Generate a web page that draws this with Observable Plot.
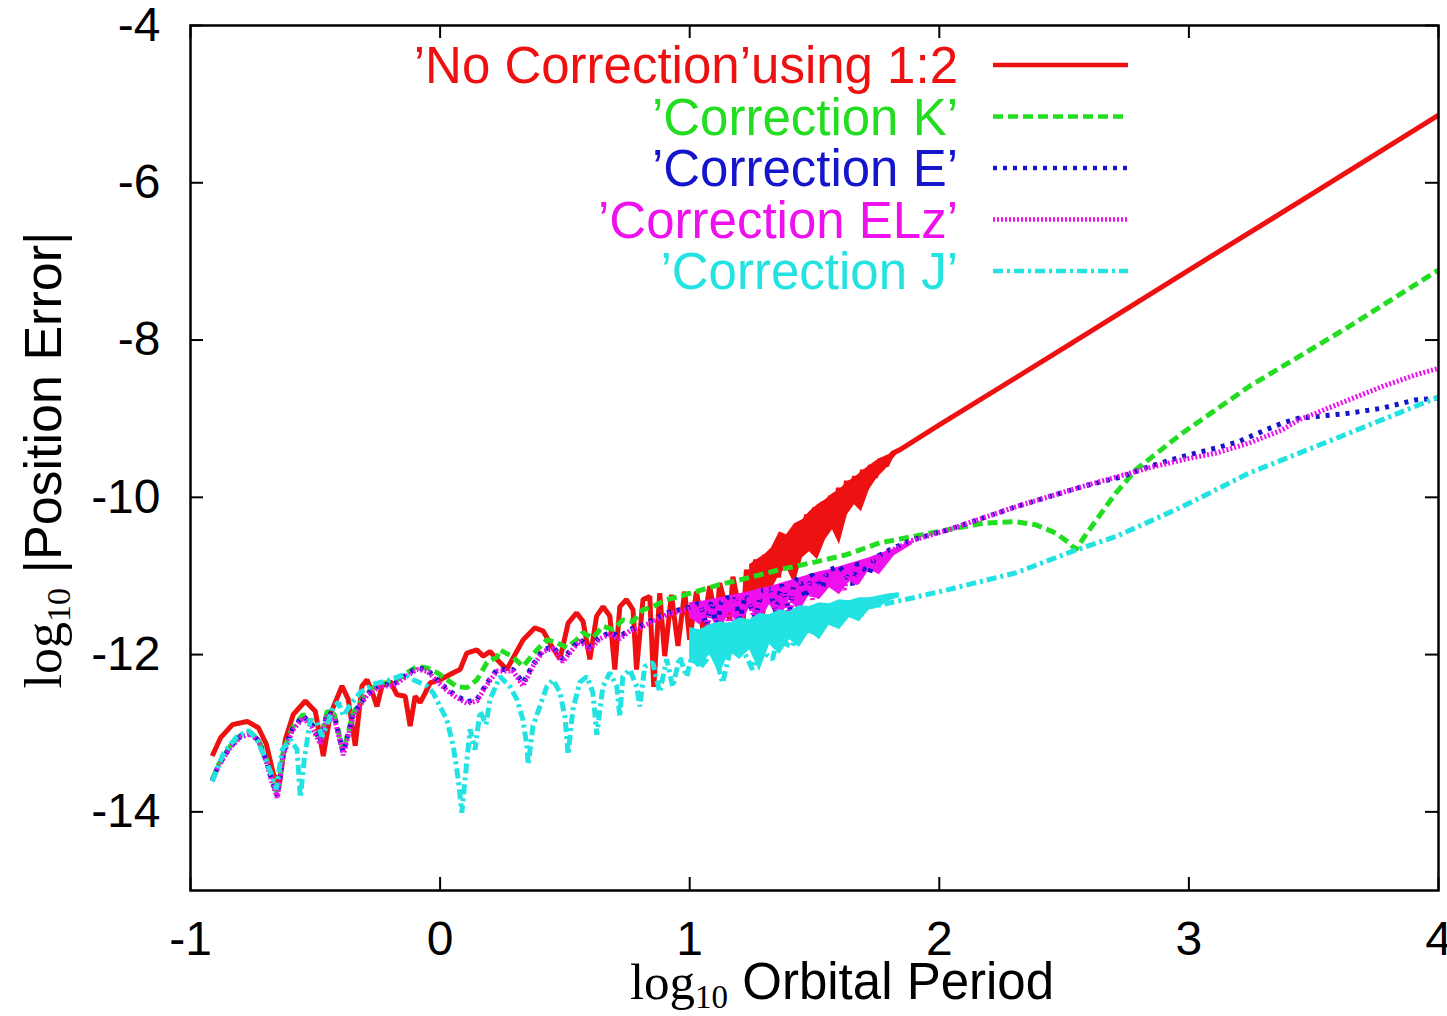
<!DOCTYPE html>
<html><head><meta charset="utf-8">
<script src="https://cdn.jsdelivr.net/npm/d3@7"></script>
<script src="https://cdn.jsdelivr.net/npm/@observablehq/plot@0.6"></script>
<style>
body{margin:0;background:#fff;}
#chart{width:1447px;height:1016px;}
</style></head><body><div id="chart"></div>
<script>
// ---- data (x = log10 orbital period, y = log10 |position error|) ----
const seriesNames = ["’No Correction’using 1:2", "’Correction K’", "’Correction E’", "’Correction ELz’", "’Correction J’"];
const seriesColors = ["#ee1111", "#22dd22", "#1515cc", "#ee11ee", "#22e2e2"];
const xTicks = [-1, 0, 1, 2, 3, 4];
const yTicks = [-14, -12, -10, -8, -6, -4];

const noCorrection = [[-0.913,-13.29],[-0.88,-13.06],[-0.832,-12.89],[-0.773,-12.85],[-0.728,-12.93],[-0.696,-13.14],[-0.668,-13.52],[-0.644,-13.65],[-0.62,-13.08],[-0.588,-12.76],[-0.54,-12.59],[-0.50,-12.72],[-0.468,-13.29],[-0.44,-12.76],[-0.393,-12.40],[-0.368,-12.57],[-0.34,-13.16],[-0.313,-12.40],[-0.293,-12.32],[-0.273,-12.47],[-0.253,-12.66],[-0.233,-12.40],[-0.20,-12.34],[-0.173,-12.51],[-0.14,-12.53],[-0.12,-12.91],[-0.10,-12.53],[-0.08,-12.61],[-0.06,-12.49],[-0.04,-12.36],[0.0,-12.32],[0.053,-12.23],[0.08,-12.19],[0.107,-11.98],[0.147,-11.94],[0.173,-12.02],[0.20,-11.96],[0.227,-12.06],[0.267,-12.19],[0.333,-11.81],[0.38,-11.66],[0.413,-11.70],[0.447,-11.89],[0.48,-12.06],[0.513,-11.60],[0.547,-11.47],[0.573,-11.58],[0.60,-12.06],[0.627,-11.51],[0.653,-11.39],[0.68,-11.51],[0.70,-12.19],[0.72,-11.39],[0.747,-11.30],[0.773,-11.43],[0.787,-12.19],[0.813,-11.30],[0.84,-11.26],[0.856,-12.41],[0.88,-11.22],[0.90,-12.02],[0.927,-11.24],[0.953,-11.89],[0.98,-11.20],[1.0,-11.81],[1.027,-11.20],[1.053,-11.68],[1.08,-11.13],[1.107,-11.60],[1.12,-11.09],[1.16,-11.56],[1.173,-11.01],[1.213,-11.64],[1.227,-10.92],[1.248,-11.30],[1.264,-10.79],[1.28,-11.24],[1.30,-10.73],[1.32,-11.11],[1.34,-10.64],[1.356,-11.02],[1.372,-10.54],[1.388,-10.92],[1.404,-10.44],[1.42,-10.86],[1.436,-10.35],[1.452,-10.73],[1.468,-10.22],[1.484,-10.64],[1.50,-10.13],[1.516,-10.54],[1.532,-10.06],[1.548,-10.41],[1.564,-9.98],[1.58,-10.31],[1.596,-9.88],[1.612,-10.22],[1.628,-9.79],[1.644,-10.10],[1.66,-9.73],[1.676,-10.03],[1.692,-9.65],[1.708,-9.90],[1.724,-9.59],[1.744,-9.75],[1.764,-9.51],[1.788,-9.60],[1.812,-9.44],[1.84,-9.40],[2.0,-9.08],[2.5,-8.10],[3.0,-7.11],[3.5,-6.13],[4.0,-5.14]];

// dense oscillation envelopes: [x, lower edge, upper edge]
const noCorrectionBand = [[1.24,-11.454,-10.857],[1.268,-11.302,-10.794],[1.30,-11.530,-10.730],[1.328,-11.175,-10.641],[1.36,-10.984,-10.438],[1.388,-10.895,-10.476],[1.42,-11.111,-10.337],[1.452,-10.768,-10.286],[1.48,-10.692,-10.184],[1.512,-10.794,-10.095],[1.544,-10.540,-10.032],[1.572,-10.413,-9.956],[1.60,-10.603,-9.905],[1.632,-10.222,-9.803],[1.66,-10.095,-9.752],[1.688,-10.184,-9.676],[1.72,-9.905,-9.600],[1.752,-9.752,-9.524],[1.784,-9.651,-9.473],[1.812,-9.524,-9.435],[1.84,-9.422,-9.397]];
const correctionELzBand = [[1.0,-11.530,-11.340],[1.04,-11.619,-11.327],[1.08,-11.492,-11.302],[1.12,-11.708,-11.276],[1.16,-11.454,-11.251],[1.20,-11.657,-11.225],[1.24,-11.403,-11.200],[1.28,-11.581,-11.162],[1.32,-11.365,-11.137],[1.36,-11.556,-11.098],[1.40,-11.302,-11.060],[1.44,-11.454,-11.022],[1.48,-11.238,-10.984],[1.52,-11.302,-10.946],[1.56,-11.149,-10.921],[1.60,-11.238,-10.883],[1.64,-11.073,-10.845],[1.68,-11.111,-10.806],[1.72,-10.921,-10.768],[1.76,-10.984,-10.718],[1.82,-10.743,-10.654],[1.892,-10.603,-10.552]];
const correctionJBand = [[1.0,-12.089,-11.657],[1.04,-12.165,-11.683],[1.08,-12.000,-11.619],[1.12,-12.254,-11.581],[1.16,-11.962,-11.606],[1.20,-12.063,-11.530],[1.24,-11.937,-11.556],[1.28,-12.216,-11.479],[1.32,-11.873,-11.492],[1.36,-12.000,-11.429],[1.40,-11.810,-11.454],[1.44,-11.911,-11.378],[1.48,-11.708,-11.390],[1.52,-11.810,-11.340],[1.56,-11.619,-11.352],[1.60,-11.683,-11.302],[1.64,-11.530,-11.314],[1.68,-11.581,-11.276],[1.72,-11.429,-11.276],[1.76,-11.403,-11.251],[1.80,-11.314,-11.225],[1.84,-11.276,-11.213]];

const correctionK = [[-0.913,-13.59],[-0.888,-13.40],[-0.84,-13.16],[-0.80,-13.03],[-0.76,-12.99],[-0.728,-13.08],[-0.696,-13.33],[-0.672,-13.59],[-0.652,-13.78],[-0.628,-13.23],[-0.592,-12.93],[-0.548,-12.76],[-0.512,-12.89],[-0.48,-13.08],[-0.452,-12.72],[-0.424,-12.76],[-0.388,-13.23],[-0.348,-12.74],[-0.293,-12.48],[-0.24,-12.36],[-0.188,-12.36],[-0.132,-12.23],[-0.092,-12.15],[-0.052,-12.17],[-0.012,-12.23],[0.028,-12.32],[0.068,-12.41],[0.108,-12.42],[0.148,-12.32],[0.188,-12.10],[0.228,-12.03],[0.24,-11.94],[0.292,-12.03],[0.332,-12.15],[0.388,-11.94],[0.428,-11.81],[0.468,-11.85],[0.508,-11.91],[0.548,-11.81],[0.572,-11.72],[0.612,-11.79],[0.652,-11.64],[0.692,-11.68],[0.732,-11.56],[0.772,-11.58],[0.812,-11.43],[0.852,-11.39],[0.908,-11.30],[0.96,-11.26],[1.012,-11.21],[1.12,-11.11],[1.24,-11.02],[1.36,-10.92],[1.492,-10.83],[1.628,-10.73],[1.76,-10.58],[1.892,-10.50],[2.04,-10.41],[2.173,-10.33],[2.307,-10.31],[2.387,-10.35],[2.467,-10.455],[2.52,-10.58],[2.547,-10.667],[2.573,-10.54],[2.64,-10.24],[2.707,-9.947],[2.787,-9.65],[2.973,-9.185],[3.107,-8.889],[3.24,-8.593],[3.373,-8.339],[3.507,-8.085],[3.64,-7.831],[4.0,-7.11]];

const correctionE = [[-0.913,-13.60],[-0.888,-13.41],[-0.84,-13.17],[-0.80,-13.04],[-0.76,-13.00],[-0.728,-13.09],[-0.696,-13.35],[-0.672,-13.62],[-0.652,-13.80],[-0.628,-13.25],[-0.592,-12.95],[-0.548,-12.78],[-0.512,-12.90],[-0.48,-13.10],[-0.452,-12.74],[-0.424,-12.78],[-0.388,-13.25],[-0.348,-12.76],[-0.293,-12.50],[-0.24,-12.38],[-0.188,-12.38],[-0.132,-12.25],[-0.092,-12.17],[-0.052,-12.19],[-0.012,-12.32],[0.028,-12.44],[0.068,-12.53],[0.108,-12.60],[0.148,-12.57],[0.188,-12.36],[0.228,-12.19],[0.292,-12.19],[0.332,-12.36],[0.372,-12.13],[0.412,-11.94],[0.452,-11.90],[0.492,-12.06],[0.532,-11.91],[0.56,-11.81],[0.60,-11.90],[0.64,-11.78],[0.68,-11.72],[0.72,-11.77],[0.76,-11.68],[0.80,-11.64],[0.852,-11.56],[0.908,-11.47],[0.96,-11.43],[1.012,-11.39],[1.04,-11.34],[1.068,-11.64],[1.088,-11.31],[1.108,-11.68],[1.128,-11.29],[1.18,-11.26],[1.20,-11.56],[1.224,-11.24],[1.264,-11.53],[1.288,-11.19],[1.32,-11.16],[1.344,-11.45],[1.368,-11.11],[1.40,-11.45],[1.42,-11.07],[1.44,-11.02],[1.464,-11.28],[1.488,-10.98],[1.532,-11.15],[1.552,-10.93],[1.60,-10.88],[1.652,-11.11],[1.672,-10.84],[1.72,-10.97],[1.74,-10.77],[1.80,-10.67],[1.892,-10.54],[1.96,-10.48],[2.04,-10.41],[2.307,-10.12],[2.573,-9.863],[2.733,-9.736],[2.84,-9.609],[2.973,-9.482],[3.107,-9.375],[3.20,-9.291],[3.307,-9.143],[3.373,-9.058],[3.44,-8.994],[3.507,-8.974],[3.64,-8.931],[3.773,-8.867],[3.907,-8.762],[4.0,-8.737]];

const correctionELz = [[-0.913,-13.61],[-0.888,-13.42],[-0.84,-13.18],[-0.80,-13.05],[-0.76,-13.01],[-0.728,-13.10],[-0.696,-13.37],[-0.672,-13.64],[-0.652,-13.82],[-0.628,-13.27],[-0.592,-12.97],[-0.548,-12.80],[-0.512,-12.93],[-0.48,-13.14],[-0.452,-12.76],[-0.424,-12.80],[-0.388,-13.28],[-0.348,-12.78],[-0.293,-12.52],[-0.24,-12.40],[-0.188,-12.40],[-0.132,-12.27],[-0.092,-12.19],[-0.052,-12.21],[-0.012,-12.34],[0.028,-12.46],[0.068,-12.55],[0.108,-12.62],[0.148,-12.59],[0.188,-12.38],[0.228,-12.21],[0.292,-12.21],[0.332,-12.40],[0.372,-12.15],[0.412,-11.96],[0.452,-11.92],[0.492,-12.09],[0.532,-11.93],[0.56,-11.83],[0.60,-11.93],[0.64,-11.80],[0.68,-11.74],[0.72,-11.80],[0.76,-11.70],[0.80,-11.66],[0.852,-11.58],[0.908,-11.49],[0.96,-11.45],[1.012,-11.41],[1.04,-11.38],[1.072,-11.62],[1.092,-11.34],[1.14,-11.30],[1.16,-11.66],[1.18,-11.28],[1.232,-11.23],[1.26,-11.56],[1.28,-11.20],[1.328,-11.17],[1.352,-11.53],[1.376,-11.14],[1.40,-11.59],[1.42,-11.10],[1.472,-11.05],[1.492,-11.30],[1.512,-11.01],[1.56,-10.95],[1.62,-11.17],[1.64,-10.90],[1.664,-11.11],[1.688,-10.86],[1.74,-10.79],[1.80,-10.69],[1.892,-10.55],[2.04,-10.41],[2.307,-10.12],[2.573,-9.863],[2.84,-9.625],[2.973,-9.524],[3.107,-9.439],[3.24,-9.312],[3.373,-9.143],[3.44,-9.016],[3.507,-8.931],[3.64,-8.762],[3.773,-8.593],[3.907,-8.444],[4.0,-8.359]];

const correctionJ = [[-0.913,-13.61],[-0.867,-13.25],[-0.813,-13.04],[-0.767,-12.97],[-0.733,-13.08],[-0.70,-13.33],[-0.673,-13.55],[-0.656,-13.71],[-0.633,-13.21],[-0.60,-13.08],[-0.573,-13.21],[-0.56,-13.82],[-0.544,-13.33],[-0.52,-12.83],[-0.493,-12.86],[-0.473,-13.04],[-0.452,-12.89],[-0.427,-12.66],[-0.407,-12.61],[-0.387,-12.78],[-0.36,-12.64],[-0.32,-12.48],[-0.26,-12.37],[-0.20,-12.32],[-0.14,-12.25],[-0.108,-12.32],[-0.053,-12.40],[-0.027,-12.49],[0.0,-12.66],[0.027,-12.83],[0.053,-13.17],[0.073,-13.59],[0.087,-14.01],[0.10,-13.59],[0.12,-12.95],[0.14,-13.21],[0.16,-12.72],[0.184,-12.89],[0.20,-12.57],[0.24,-12.28],[0.28,-12.41],[0.308,-12.57],[0.332,-12.83],[0.348,-13.17],[0.353,-13.40],[0.372,-12.91],[0.427,-12.41],[0.452,-12.32],[0.48,-12.48],[0.50,-12.79],[0.513,-13.27],[0.532,-12.70],[0.56,-12.35],[0.588,-12.28],[0.612,-12.48],[0.628,-13.02],[0.652,-12.41],[0.68,-12.23],[0.708,-12.41],[0.72,-12.79],[0.732,-12.28],[0.76,-12.19],[0.788,-12.41],[0.80,-12.66],[0.82,-12.15],[0.852,-12.10],[0.88,-12.48],[0.908,-12.06],[0.932,-12.41],[0.96,-12.03],[0.988,-12.28],[1.012,-11.98],[1.04,-12.17],[1.068,-12.06],[1.092,-11.90],[1.112,-12.13],[1.132,-12.36],[1.16,-11.98],[1.20,-11.85],[1.232,-12.06],[1.252,-12.19],[1.28,-11.81],[1.308,-12.00],[1.332,-12.06],[1.36,-11.68],[1.388,-11.87],[1.412,-11.90],[1.44,-11.59],[1.48,-11.75],[1.52,-11.53],[1.58,-11.62],[1.627,-11.47],[1.70,-11.40],[1.76,-11.37],[1.892,-11.28],[2.04,-11.17],[2.307,-10.96],[2.547,-10.67],[2.707,-10.50],[2.973,-10.12],[3.24,-9.693],[3.507,-9.355],[3.773,-9.016],[4.0,-8.724]];

// ---- styles ----
const dashes = [null, "10,5", "4,6", "2,2", "10,4,3,4"];
const W = 1447, H = 1016;
const M = {left: 190, right: 9, top: 25, bottom: 126};
const innerW = W - M.left - M.right, innerH = H - M.top - M.bottom;
const tick = 13;
const sans = "'Liberation Sans', Arial, Helvetica, sans-serif";
const serif = "'Liberation Serif', 'Times New Roman', serif";

const lineOf = (arr, i) => Plot.line(arr, {
  x: d => d[0], y: d => d[1], stroke: seriesColors[i], strokeWidth: 5,
  strokeDasharray: dashes[i] || undefined, strokeLinejoin: "miter", strokeLinecap: "butt"
});
const bandOf = (arr, i) => Plot.areaY(arr, {
  x: d => d[0], y1: d => d[1], y2: d => d[2], fill: seriesColors[i], fillOpacity: 1
});

const plot = Plot.plot({
  width: W, height: H,
  marginLeft: M.left, marginRight: M.right, marginTop: M.top, marginBottom: M.bottom,
  x: {domain: [-1, 4], label: null},
  y: {domain: [-15, -4], label: null},
  style: {fontFamily: sans, fontSize: "48px", color: "#000", background: "#fff"},
  marks: [
    bandOf(noCorrectionBand, 0),
    lineOf(noCorrection, 0),
    lineOf(correctionK, 1),
    bandOf(correctionELzBand, 3),
    lineOf(correctionE, 2),
    lineOf(correctionELz, 3),
    bandOf(correctionJBand, 4),
    lineOf(correctionJ, 4),
    Plot.ruleX(xTicks, {x: d => d, insetTop: innerH - tick, stroke: "#000", strokeWidth: 2}),
    Plot.ruleX(xTicks, {x: d => d, insetBottom: innerH - tick, stroke: "#000", strokeWidth: 2}),
    Plot.ruleY(yTicks, {y: d => d, insetRight: innerW - tick, stroke: "#000", strokeWidth: 2}),
    Plot.ruleY(yTicks, {y: d => d, insetLeft: innerW - tick, stroke: "#000", strokeWidth: 2}),
    Plot.axisX({ticks: xTicks, tickSize: 0, tickPadding: 30, tickFormat: d => String(d), fontSize: 48}),
    Plot.axisY({ticks: yTicks, tickSize: 0, tickPadding: 30, tickFormat: d => String(d), fontSize: 48}),
    Plot.frame({stroke: "#000", strokeWidth: 2.5})
  ]
});
document.getElementById("chart").appendChild(plot);

const svg = d3.select(plot);
// legend
const lg = svg.append("g");
seriesNames.forEach((t, i) => {
  const y = 65 + i * 51.5;
  lg.append("text").attr("x", 958).attr("y", y).attr("dy", "0.36em")
    .attr("text-anchor", "end").attr("fill", seriesColors[i])
    .style("font-family", sans).style("font-size", "51px").text(t);
  lg.append("line").attr("x1", 993).attr("x2", 1128).attr("y1", y).attr("y2", y)
    .attr("stroke", seriesColors[i]).attr("stroke-width", 4.5)
    .attr("stroke-dasharray", dashes[i] || null);
});
// axis titles
const xt = svg.append("text").attr("x", 842).attr("y", 999).attr("text-anchor", "middle").attr("fill", "#000");
xt.append("tspan").style("font-family", serif).style("font-size", "51px").text("log");
xt.append("tspan").style("font-family", serif).style("font-size", "33px").attr("dy", 9).text("10");
xt.append("tspan").style("font-family", sans).style("font-size", "51px").attr("dy", -9).text(" Orbital Period");

const yt = svg.append("text").attr("transform", "translate(61,460) rotate(-90)").attr("text-anchor", "middle").attr("fill", "#000");
yt.append("tspan").style("font-family", serif).style("font-size", "52px").text("log");
yt.append("tspan").style("font-family", serif).style("font-size", "34px").attr("dy", 9).text("10");
yt.append("tspan").style("font-family", sans).style("font-size", "52px").attr("dy", -9).text(" |Position Error|");
</script></body></html>
